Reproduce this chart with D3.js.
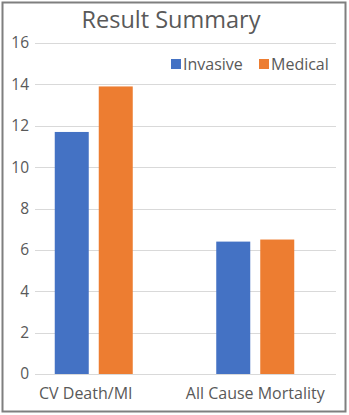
<!DOCTYPE html>
<html>
<head>
<meta charset="utf-8">
<script src="https://cdn.jsdelivr.net/npm/d3@7"></script>
<style>
  html, body { margin: 0; padding: 0; background: #fff; }
  svg { display: block; font-family: "Open Sans", "Noto Sans", sans-serif; }
</style>
</head>
<body>
<svg id="chart" width="349" height="415"></svg>
<script>
// Chart data
const categories = ["CV Death/MI", "All Cause Mortality"];
const seriesNames = ["Invasive", "Medical"];
const invasiveValues = [11.7, 6.4];
const medicalValues = [13.9, 6.5];
const yTicks = [0, 2, 4, 6, 8, 10, 12, 14, 16];
const seriesColors = ["#4472c4", "#ed7d31"];

const seriesValues = [invasiveValues, medicalValues];
const rows = categories.map((c, i) => ({
  category: c,
  values: seriesNames.map((s, j) => ({ series: s, value: seriesValues[j][i], color: seriesColors[j] }))
}));

const W = 349, H = 415;
const svg = d3.select("#chart");
const textColor = "#595959";

// Outer frame
svg.append("rect")
  .attr("x", 2.5).attr("y", 2.5)
  .attr("width", W - 6).attr("height", H - 6)
  .attr("fill", "#fff")
  .attr("stroke", "#7f7f7f").attr("stroke-width", 2);

// Scales
const gridLeft = 35, gridRight = 336;
const y = d3.scaleLinear().domain([0, 16]).range([374, 43]);
const x0 = d3.scaleBand().domain(categories).range([13, 336]);
const x1 = d3.scaleBand().domain(seriesNames).range([-39, 39]).paddingInner(10 / 44);

// Gridlines
svg.append("g")
  .selectAll("line")
  .data(yTicks)
  .join("line")
  .attr("x1", gridLeft).attr("x2", gridRight)
  .attr("y1", d => Math.round(y(d)) + 0.5)
  .attr("y2", d => Math.round(y(d)) + 0.5)
  .attr("stroke", "#d9d9d9").attr("stroke-width", 1);

// Y axis labels
const yAxis = svg.append("g")
  .attr("transform", `translate(${gridLeft - 6},0)`)
  .call(d3.axisLeft(y).tickValues(yTicks).tickSize(0).tickPadding(0));
yAxis.select(".domain").remove();
yAxis.selectAll("text")
  .attr("fill", textColor)
  .style("font-size", "15.5px")
  .style("font-family", "'Open Sans', sans-serif");

// Bars
const groups = svg.append("g")
  .selectAll("g")
  .data(rows)
  .join("g")
  .attr("transform", d => `translate(${x0(d.category) + x0.bandwidth() / 2},0)`);

groups.selectAll("rect")
  .data(d => d.values)
  .join("rect")
  .attr("x", d => x1(d.series))
  .attr("width", x1.bandwidth())
  .attr("y", d => y(d.value))
  .attr("height", d => y(0) - y(d.value))
  .attr("fill", d => d.color);

// Category labels
const xAxis = svg.append("g")
  .attr("transform", `translate(0,${y(0)})`)
  .call(d3.axisBottom(x0).tickSize(0).tickPadding(14));
xAxis.select(".domain").remove();
xAxis.selectAll("text")
  .attr("fill", textColor)
  .style("font-size", "16px")
  .style("font-family", "'Open Sans', sans-serif")
  .attr("dx", (d, i) => i === 0 ? -8 : 0);

// Title
svg.append("text")
  .attr("x", 171).attr("y", 28)
  .attr("text-anchor", "middle")
  .attr("fill", textColor)
  .style("font-size", "23.5px")
  .text("Result Summary");

// Legend
const legendItems = [
  { name: seriesNames[0], color: seriesColors[0], x: 171 },
  { name: seriesNames[1], color: seriesColors[1], x: 259 }
];
const legend = svg.append("g")
  .selectAll("g")
  .data(legendItems)
  .join("g")
  .attr("transform", d => `translate(${d.x},59)`);
legend.append("rect")
  .attr("width", 10).attr("height", 10)
  .attr("fill", d => d.color);
legend.append("text")
  .attr("x", 12).attr("y", 10.5)
  .attr("fill", textColor)
  .style("font-size", "16px")
  .text(d => d.name);
</script>
</body>
</html>
